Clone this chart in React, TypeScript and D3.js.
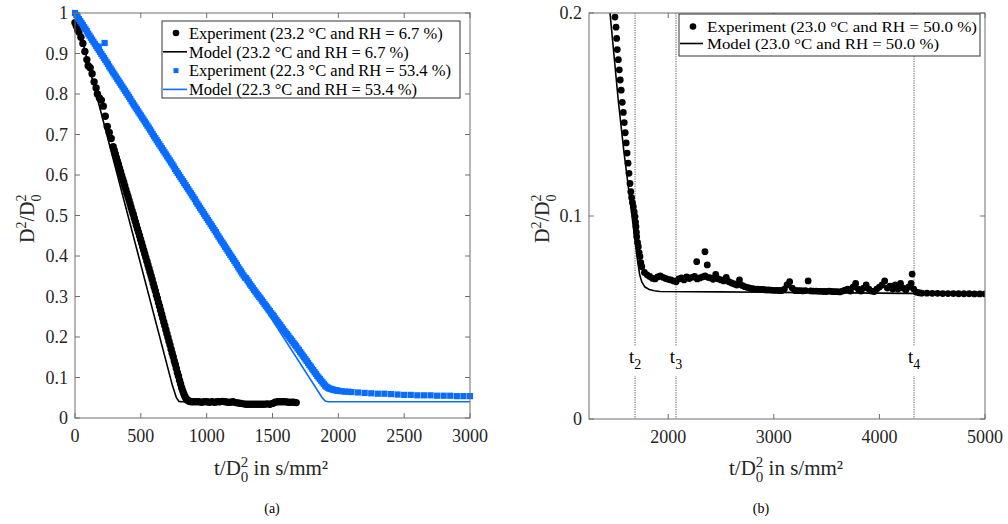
import React from "react";
import * as d3 from "d3";

// ---------- Panel (a) data ----------
const blackExpT = [0,10,20,30,45,60,75,90,100,115,130,145,160,170,185,200,215,230,245,260,275,290,298,306,314,322,330,338,346,354,362,370,378,386,394,402,410,418,426,434,442,450,458,466,474,482,490,498,506,514,522,530,538,546,554,562,570,578,586,594,602,610,618,626,634,642,650,658,666,674,682,690,698,706,714,722,730,738,746,754,762,770,778,786,794,802,810,818,826,834,842,850,858,866,874,882,900,920,940,960,980,1000,1020,1040,1060,1080,1100,1120,1140,1160,1180,1200,1220,1240,1260,1280,1300,1320,1340,1360,1380,1400,1420,1440,1460,1480,1500,1520,1540,1560,1580,1600,1620,1640,1660,1680];
const blackExpY = [0.976,0.968,0.958,0.953,0.94,0.925,0.905,0.885,0.87,0.865,0.85,0.83,0.815,0.8,0.79,0.785,0.77,0.745,0.72,0.705,0.69,0.67,0.661,0.652,0.643,0.634,0.626,0.617,0.608,0.599,0.59,0.582,0.573,0.564,0.555,0.547,0.538,0.529,0.52,0.511,0.503,0.494,0.485,0.476,0.467,0.459,0.45,0.441,0.432,0.423,0.414,0.405,0.396,0.387,0.378,0.369,0.36,0.351,0.342,0.332,0.323,0.314,0.304,0.295,0.285,0.276,0.266,0.256,0.247,0.237,0.228,0.218,0.208,0.199,0.189,0.18,0.17,0.16,0.151,0.141,0.132,0.122,0.112,0.103,0.093,0.084,0.075,0.067,0.06,0.054,0.049,0.045,0.043,0.042,0.041,0.04,0.04,0.04,0.04,0.039,0.04,0.04,0.039,0.04,0.039,0.04,0.04,0.041,0.04,0.039,0.039,0.04,0.038,0.037,0.036,0.035,0.034,0.034,0.034,0.034,0.034,0.034,0.034,0.034,0.035,0.034,0.036,0.039,0.04,0.04,0.04,0.04,0.039,0.039,0.039,0.038];

const blackModelT = [0,740,770,790,810,1680];
const blackModelY = [1.0,0.08,0.05,0.041,0.04,0.04];

const blueExpT = [0,10,20,30,40,50,60,70,80,90,100,110,120,130,140,150,160,170,180,190,200,210,220,230,240,250,260,270,280,290,300,310,320,330,340,350,360,370,380,390,400,410,420,430,440,450,460,470,480,490,500,510,520,530,540,550,560,570,580,590,600,610,620,630,640,650,660,670,680,690,700,710,720,730,740,750,760,770,780,790,800,810,820,830,840,850,860,870,880,890,900,910,920,930,940,950,960,970,980,990,1000,1010,1020,1030,1040,1050,1060,1070,1080,1090,1100,1110,1120,1130,1140,1150,1160,1170,1180,1190,1200,1210,1220,1230,1240,1250,1260,1270,1280,1290,1300,1310,1320,1330,1340,1350,1360,1370,1380,1390,1400,1410,1420,1430,1440,1450,1460,1470,1480,1490,1500,1510,1520,1530,1540,1550,1560,1570,1580,1590,1600,1610,1620,1630,1640,1650,1660,1670,1680,1690,1700,1710,1720,1730,1740,1750,1760,1770,1780,1790,1800,1810,1820,1830,1840,1850,1860,1870,1880,1890,1900,1910,1920,1930,1940,1950,1960,1970,1980,1990,2000,2025,2050,2075,2100,2150,2200,2250,2300,2350,2400,2450,2500,2550,2600,2650,2700,2750,2800,2850,2900,2950,3000,180,225];
const blueExpY = [1.0,0.995,0.99,0.985,0.98,0.975,0.97,0.965,0.96,0.955,0.949,0.944,0.939,0.934,0.929,0.924,0.919,0.914,0.909,0.904,0.899,0.894,0.889,0.884,0.879,0.874,0.868,0.863,0.858,0.853,0.848,0.843,0.838,0.833,0.828,0.823,0.818,0.813,0.808,0.803,0.798,0.793,0.788,0.782,0.777,0.772,0.767,0.762,0.757,0.752,0.747,0.742,0.737,0.732,0.727,0.722,0.717,0.712,0.707,0.701,0.696,0.691,0.686,0.681,0.676,0.671,0.666,0.661,0.656,0.651,0.646,0.641,0.636,0.631,0.626,0.621,0.615,0.61,0.605,0.6,0.595,0.59,0.585,0.58,0.575,0.57,0.565,0.56,0.555,0.55,0.545,0.54,0.534,0.529,0.524,0.519,0.514,0.509,0.504,0.499,0.494,0.489,0.484,0.479,0.474,0.469,0.464,0.459,0.453,0.448,0.443,0.438,0.433,0.428,0.423,0.418,0.413,0.408,0.403,0.398,0.393,0.388,0.383,0.378,0.372,0.367,0.362,0.357,0.352,0.347,0.345,0.34,0.335,0.33,0.326,0.321,0.316,0.312,0.307,0.303,0.299,0.295,0.29,0.286,0.281,0.277,0.273,0.268,0.264,0.259,0.255,0.251,0.246,0.242,0.237,0.233,0.229,0.224,0.22,0.215,0.211,0.207,0.203,0.198,0.194,0.19,0.185,0.181,0.177,0.172,0.168,0.163,0.159,0.154,0.15,0.145,0.141,0.136,0.131,0.127,0.122,0.118,0.113,0.109,0.104,0.1,0.096,0.092,0.088,0.084,0.08,0.077,0.075,0.073,0.072,0.071,0.07,0.069,0.0685,0.068,0.067,0.066,0.065,0.065,0.064,0.063,0.062,0.061,0.06,0.06,0.059,0.058,0.057,0.057,0.056,0.056,0.056,0.055,0.055,0.055,0.054,0.054,0.054,0.917,0.926];

const blueModelT = [0,1880,1900,1920,3000];
const blueModelY = [1.0,0.049,0.042,0.04,0.04];

// ---------- Panel (b) data ----------
const expBT = [1496,1506,1512,1518,1528,1537,1546,1555,1565,1575,1584,1593,1602,1611,1620,1629,1638,1646,1654,1662,1670,1678,1686,1691,1695,1699,1702,1710,1717,1725,1733,1741,1750,1775,1800,1825,1850,1875,1900,1925,1950,1975,2000,2025,2050,2075,2100,2125,2150,2175,2200,2225,2250,2270,2275,2300,2325,2348,2350,2370,2375,2400,2425,2450,2475,2500,2525,2550,2575,2600,2625,2650,2675,2700,2725,2750,2775,2800,2825,2850,2875,2900,2925,2950,2975,3000,3025,3050,3075,3100,3125,3150,3175,3200,3225,3250,3275,3300,3325,3350,3375,3400,3425,3450,3475,3500,3525,3550,3575,3600,3625,3650,3675,3700,3725,3750,3775,3800,3825,3850,3875,3900,3925,3950,3975,4000,4025,4050,4075,4100,4125,4150,4175,4200,4225,4250,4275,4300,4310,4325,4350,4375,4400,4450,4500,4550,4600,4650,4700,4750,4800,4850,4900,4950,5000];
const expBY = [0.198,0.193,0.1875,0.182,0.177,0.172,0.167,0.162,0.156,0.151,0.146,0.141,0.136,0.131,0.126,0.121,0.116,0.112,0.109,0.1065,0.1045,0.102,0.0997,0.097,0.0947,0.092,0.0898,0.087,0.0849,0.082,0.08,0.077,0.075,0.0722,0.071,0.0702,0.0693,0.069,0.07,0.0705,0.0698,0.0692,0.0688,0.0685,0.068,0.0676,0.069,0.0695,0.0685,0.07,0.0692,0.0698,0.0702,0.0775,0.069,0.0695,0.07,0.0824,0.0705,0.0759,0.0698,0.0695,0.0688,0.0712,0.069,0.0685,0.068,0.0698,0.0676,0.067,0.0665,0.066,0.0685,0.0658,0.0652,0.0648,0.0644,0.0642,0.064,0.064,0.0638,0.0638,0.0636,0.0636,0.0635,0.0634,0.0634,0.0633,0.0633,0.064,0.066,0.0676,0.0645,0.0633,0.0632,0.0632,0.0631,0.0632,0.068,0.0631,0.063,0.063,0.0629,0.0629,0.0628,0.0628,0.063,0.0628,0.0627,0.0627,0.0626,0.063,0.0635,0.064,0.063,0.065,0.0668,0.064,0.063,0.0645,0.066,0.064,0.063,0.0628,0.064,0.065,0.066,0.068,0.0645,0.0655,0.064,0.066,0.064,0.0668,0.0645,0.0635,0.065,0.0668,0.0714,0.064,0.0625,0.0622,0.062,0.062,0.0619,0.0619,0.0618,0.0618,0.0618,0.0617,0.0617,0.0617,0.0616,0.0616,0.0616];

const modelBT = [1440,1449,1527,1580,1638,1686,1710,1730,1750,1780,1820,1870,1922,2500,3000,4000,5000];
const modelBY = [0.205,0.2,0.157,0.132,0.108,0.088,0.078,0.071,0.0675,0.065,0.0638,0.0632,0.0628,0.0626,0.0624,0.062,0.0615];

const markerTimes = [1686, 2074, 4328];
const markerNames = ["2", "3", "4"];

const xTicksA = [0, 500, 1000, 1500, 2000, 2500, 3000];
const yTicksA = [0, 0.1, 0.2, 0.3, 0.4, 0.5, 0.6, 0.7, 0.8, 0.9, 1];
const xTicksB = [2000, 3000, 4000, 5000];
const yTicksB = [0, 0.1, 0.2];

const legendA = [
  "Experiment (23.2 °C and RH = 6.7 %)",
  "Model (23.2 °C and RH = 6.7 %)",
  "Experiment (22.3 °C and RH = 53.4 %)",
  "Model (22.3 °C and RH = 53.4 %)",
];
const legendB = [
  "Experiment (23.0 °C and RH = 50.0 %)",
  "Model (23.0 °C and RH = 50.0 %)",
];

const FONT = "Liberation Serif, Times New Roman, DejaVu Serif, serif";
const BLUE = "#0a6cff";
const AXIS = "#6e6e6e";
const TXT = { fontFamily: FONT } as React.CSSProperties;

type Sc = d3.ScaleLinear<number, number>;

function zip(t: number[], y: number[]) {
  return t.map((v, i) => [v, y[i]] as [number, number]);
}

function Axes({ x, y, xt, yt, fmtY }: { x: Sc; y: Sc; xt: number[]; yt: number[]; fmtY: (v: number) => string }) {
  const [x0, x1] = x.range();
  const [y0, y1] = y.range();
  const L = 5;
  return (
    <g>
      <rect x={x0} y={y1} width={x1 - x0} height={y0 - y1} fill="none" stroke={AXIS} strokeWidth={1} />
      {xt.map((v) => (
        <g key={"x" + v}>
          <line x1={x(v)} x2={x(v)} y1={y0} y2={y0 - L} stroke={AXIS} />
          <line x1={x(v)} x2={x(v)} y1={y1} y2={y1 + L} stroke={AXIS} />
          <text x={x(v)} y={y0 + 24} textAnchor="middle" fontSize={18} fill="#262626" style={TXT}>{v}</text>
        </g>
      ))}
      {yt.map((v) => (
        <g key={"y" + v}>
          <line x1={x0} x2={x0 + L} y1={y(v)} y2={y(v)} stroke={AXIS} />
          <line x1={x1} x2={x1 - L} y1={y(v)} y2={y(v)} stroke={AXIS} />
          <text x={x0 - 7} y={y(v)} dy="0.35em" textAnchor="end" fontSize={18} fill="#262626" style={TXT}>{fmtY(v)}</text>
        </g>
      ))}
    </g>
  );
}

function XLabel({ x, y }: { x: number; y: number }) {
  return (
    <text x={x} y={y} fontSize={21} fill="#262626" style={TXT}>
      <tspan>t/D</tspan>
      <tspan fontSize={15} dy={-8}>2</tspan>
      <tspan fontSize={15} dx={-7.5} dy={15}>0</tspan>
      <tspan dy={-7}> in s/mm²</tspan>
    </text>
  );
}

function YLabel({ x, y }: { x: number; y: number }) {
  return (
    <text transform={`translate(${x},${y}) rotate(-90)`} x={-27} y={0} fontSize={20} fill="#262626" style={TXT}>
      <tspan>D</tspan>
      <tspan fontSize={14} dy={-8}>2</tspan>
      <tspan dy={8}>/D</tspan>
      <tspan fontSize={14} dy={-8}>2</tspan>
      <tspan fontSize={14} dx={-7} dy={15}>0</tspan>
    </text>
  );
}

export default function App() {
  const xA = d3.scaleLinear().domain([0, 3000]).range([75, 470]);
  const yA = d3.scaleLinear().domain([0, 1]).range([418, 13]);
  const xB = d3.scaleLinear().domain([1250, 5000]).range([589, 985]);
  const yB = d3.scaleLinear().domain([0, 0.2]).range([419, 13]);

  const lineA = d3.line<[number, number]>().x((d) => xA(d[0])).y((d) => yA(d[1]));
  const lineB = d3.line<[number, number]>().x((d) => xB(d[0])).y((d) => yB(d[1]));

  const blackExp = zip(blackExpT, blackExpY);
  const blueExp = zip(blueExpT, blueExpY);
  const expB = zip(expBT, expBY);
  const sq = 6.2;

  return (
    <svg width={1008} height={524} style={{ position: "absolute", left: 0, top: 0, background: "#fff", fontFamily: FONT }}>
      <defs>
        <clipPath id="clipB">
          <rect x={589} y={13} width={396} height={406} />
        </clipPath>
      </defs>
      <rect x={0} y={0} width={1008} height={524} fill="#fff" />

      {/* Panel (a) */}
      <g>
        {blackExp.map((d, i) => (
          <circle key={"be" + i} cx={xA(d[0])} cy={yA(d[1])} r={3.7} fill="#000" />
        ))}
        <path d={lineA(zip(blackModelT, blackModelY)) || ""} fill="none" stroke="#000" strokeWidth={1.6} />
        {blueExp.map((d, i) => (
          <rect key={"bl" + i} x={xA(d[0]) - sq / 2} y={yA(d[1]) - sq / 2} width={sq} height={sq} fill={BLUE} />
        ))}
        <path d={lineA(zip(blueModelT, blueModelY)) || ""} fill="none" stroke={BLUE} strokeWidth={1.6} />
        <Axes x={xA} y={yA} xt={xTicksA} yt={yTicksA} fmtY={(v) => (v === 0 || v === 1 ? String(v) : v.toFixed(1))} />
        <g>
          <rect x={162} y={21} width={298} height={77} fill="#fff" stroke="#333" strokeWidth={1} />
          {legendA.map((s, i) => {
            const cy = 33 + i * 18.8;
            return (
              <g key={"la" + i}>
                {i === 0 && <circle cx={176} cy={cy} r={3.3} fill="#000" />}
                {i === 1 && <line x1={163} x2={187} y1={cy} y2={cy} stroke="#000" strokeWidth={1.6} />}
                {i === 2 && <rect x={173.5} y={cy - 2.5} width={5} height={5} fill={BLUE} />}
                {i === 3 && <line x1={163} x2={187} y1={cy} y2={cy} stroke={BLUE} strokeWidth={1.6} />}
                <text x={189} y={cy} dy="0.35em" fontSize={16.5} fill="#000" style={TXT}>{s}</text>
              </g>
            );
          })}
        </g>
        <XLabel x={214} y={475} />
        <YLabel x={34} y={216} />
        <text x={272} y={513} textAnchor="middle" fontSize={14} fill="#000" style={TXT}>(a)</text>
      </g>

      {/* Panel (b) */}
      <g>
        {markerTimes.map((t, i) => (
          <line key={"mk" + i} x1={xB(t)} x2={xB(t)} y1={13} y2={419} stroke="#444" strokeWidth={0.9} strokeDasharray="1.2,1.2" />
        ))}
        <g clipPath="url(#clipB)">
          {expB.map((d, i) => (
            <circle key={"eb" + i} cx={xB(d[0])} cy={yB(d[1])} r={3.4} fill="#000" />
          ))}
          <path d={lineB(zip(modelBT, modelBY)) || ""} fill="none" stroke="#000" strokeWidth={1.6} />
        </g>
        {markerTimes.map((t, i) => (
          <g key={"ml" + i}>
            <rect x={xB(t) - 9} y={346} width={18} height={30} fill="#fff" />
            <text x={xB(t)} y={363} textAnchor="middle" fontSize={19} fill="#000" style={TXT}>
              <tspan>t</tspan>
              <tspan fontSize={14} dy={6}>{markerNames[i]}</tspan>
            </text>
          </g>
        ))}
        <Axes x={xB} y={yB} xt={xTicksB} yt={yTicksB} fmtY={(v) => (v === 0 ? "0" : v.toFixed(1))} />
        <g>
          <rect x={679} y={14} width={301} height={42} fill="#fff" stroke="#333" strokeWidth={1} />
          {legendB.map((s, i) => {
            const cy = 26.5 + i * 17;
            return (
              <g key={"lb" + i}>
                {i === 0 && <circle cx={693} cy={cy} r={3.3} fill="#000" />}
                {i === 1 && <line x1={680} x2={703} y1={cy} y2={cy} stroke="#000" strokeWidth={1.6} />}
                <text x={707} y={cy} dy="0.35em" fontSize={15} fill="#000" style={TXT}
                  textLength={i === 0 ? 270 : 232} lengthAdjust="spacingAndGlyphs">{s}</text>
              </g>
            );
          })}
        </g>
        <XLabel x={729} y={475} />
        <YLabel x={549} y={216} />
        <text x={761} y={513} textAnchor="middle" fontSize={14} fill="#000" style={TXT}>(b)</text>
      </g>
    </svg>
  );
}
